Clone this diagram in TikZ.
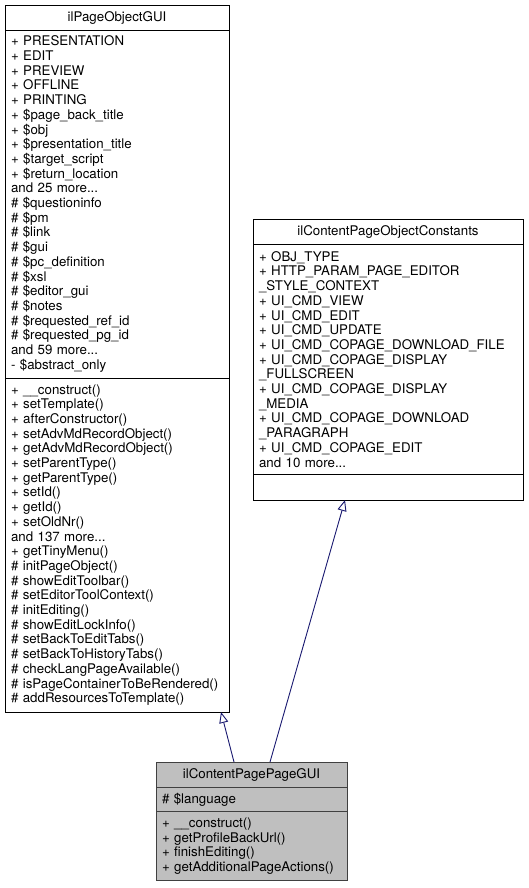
\documentclass[tikz,border=0pt]{standalone}
\usepackage{fontspec}
\setmainfont{TeX Gyre Heros}
\usetikzlibrary{arrows.meta,positioning}
\definecolor{edgeblue}{HTML}{191970}
\definecolor{selfill}{HTML}{BFBFBF}
\definecolor{selline}{HTML}{404040}

\begin{document}
\begin{tikzpicture}[x=1pt,y=-1pt,font=\fontsize{13.3}{14.7}\selectfont,
cls/.style={draw=black,fill=white,line width=.9pt,inner xsep=6pt,inner ysep=0pt,outer sep=0pt},
title/.style={cls,minimum height=25pt,align=center},
part/.style={cls,align=left},
sel/.style={draw=selline,fill=selfill},
inherit/.style={draw=edgeblue,line width=.9pt,-{Triangle[open,fill=white,length=11pt,width=9pt]}}]
\useasboundingbox (0,0) rectangle (529,888);
% base class
\node[title,text width=212pt] (pog) at (117,17.5) {ilPageObjectGUI};
\node[part,text width=212pt,minimum height=348pt,below=0pt of pog] (pogattr)
 {+ PRESENTATION\\+ EDIT\\+ PREVIEW\\+ OFFLINE\\+ PRINTING\\+ \$page\_back\_title\\+ \$obj\\+ \$presentation\_title\\+ \$target\_script\\+ \$return\_location\\and 25 more...\\\# \$questioninfo\\\# \$pm\\\# \$link\\\# \$gui\\\# \$pc\_definition\\\# \$xsl\\\# \$editor\_gui\\\# \$notes\\\# \$requested\_ref\_id\\\# \$requested\_pg\_id\\and 59 more...\\- \$abstract\_only};
\node[part,text width=212pt,minimum height=334pt,below=0pt of pogattr] (pogmeth)
 {+ \_\_construct()\\+ setTemplate()\\+ afterConstructor()\\+ setAdvMdRecordObject()\\+ getAdvMdRecordObject()\\+ setParentType()\\+ getParentType()\\+ setId()\\+ getId()\\+ setOldNr()\\and 137 more...\\+ getTinyMenu()\\\# initPageObject()\\\# showEditToolbar()\\\# setEditorToolContext()\\\# initEditing()\\\# showEditLockInfo()\\\# setBackToEditTabs()\\\# setBackToHistoryTabs()\\\# checkLangPageAvailable()\\\# isPageContainerToBeRendered()\\\# addResourcesToTemplate()};
% interface
\node[title,text width=258pt] (cpoc) at (388,231.5) {ilContentPageObjectConstants};
\node[part,text width=258pt,minimum height=230.5pt,below=0pt of cpoc] (cpocattr)
 {+ OBJ\_TYPE\\+ HTTP\_PARAM\_PAGE\_EDITOR\\\_STYLE\_CONTEXT\\+ UI\_CMD\_VIEW\\+ UI\_CMD\_EDIT\\+ UI\_CMD\_UPDATE\\+ UI\_CMD\_COPAGE\_DOWNLOAD\_FILE\\+ UI\_CMD\_COPAGE\_DISPLAY\\\_FULLSCREEN\\+ UI\_CMD\_COPAGE\_DISPLAY\\\_MEDIA\\+ UI\_CMD\_COPAGE\_DOWNLOAD\\\_PARAGRAPH\\+ UI\_CMD\_COPAGE\_EDIT\\and 10 more...};
\node[part,text width=258pt,minimum height=25.5pt,below=0pt of cpocattr] (cpocmeth) {};
% documented class
\node[title,sel,text width=179pt] (cppg) at (251.5,774.5) {ilContentPagePageGUI};
\node[part,sel,text width=179pt,minimum height=24.7pt,below=0pt of cppg] (cppgattr) {\# \$language};
\node[part,sel,text width=179pt,minimum height=68.8pt,below=0pt of cppgattr] (cppgmeth)
 {+ \_\_construct()\\+ getProfileBackUrl()\\+ finishEditing()\\+ getAdditionalPageActions()};
\draw[inherit] ([xshift=-17.5pt]cppg.north)--([xshift=104pt]pogmeth.south);
\draw[inherit] ([xshift=18.5pt]cppg.north)--([xshift=-43pt]cpocmeth.south);
\end{tikzpicture}
\end{document}
